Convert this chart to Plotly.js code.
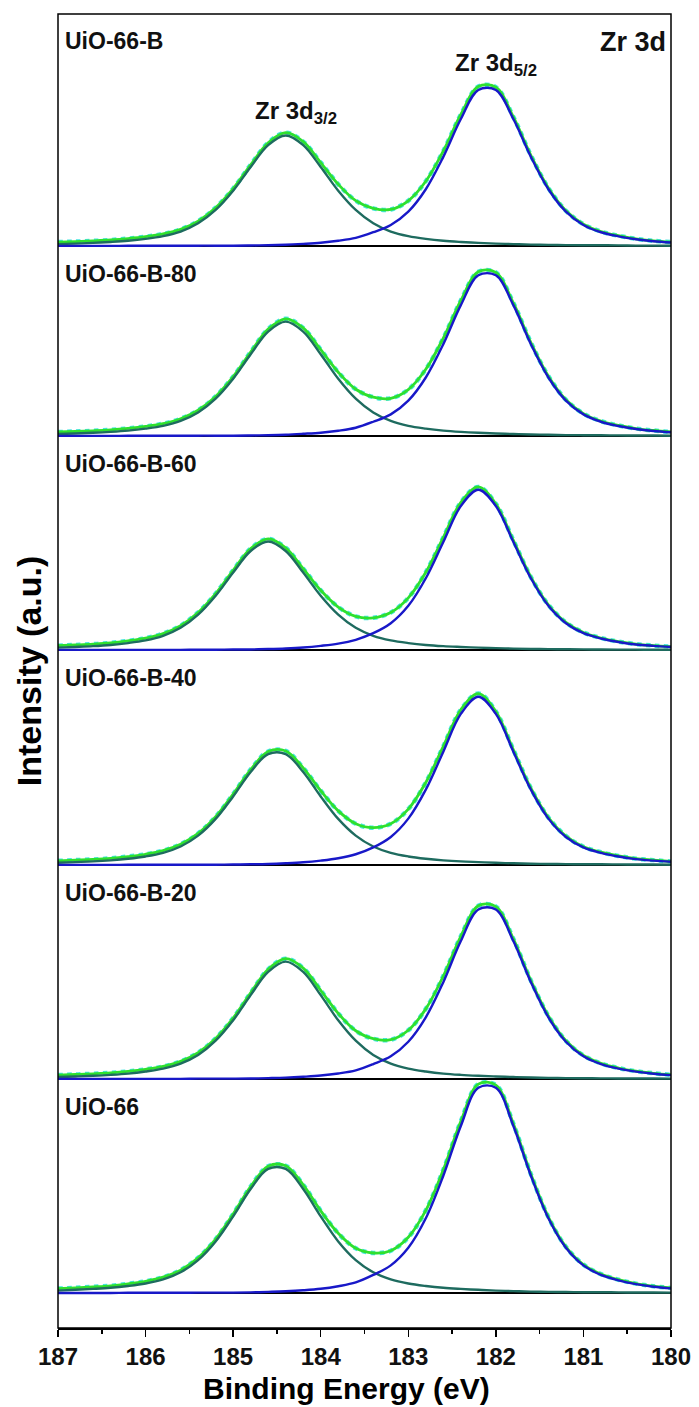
<!DOCTYPE html>
<html>
<head>
<meta charset="utf-8">
<script src="https://cdn.plot.ly/plotly-3.0.1.min.js"></script>
<style>html,body{margin:0;padding:0;background:#fff;}#chart{width:699px;height:1407px;}</style>
</head>
<body>
<div id="chart"></div>
<script>
// Binding energy grid (eV)
const energy = [187.0,186.8,186.6,186.4,186.2,186.0,185.8,185.6,185.4,185.2,185.0,184.8,184.6,184.4,184.2,184.0,183.8,183.6,183.4,183.2,183.0,182.8,182.6,182.4,182.2,182.0,181.8,181.6,181.4,181.2,181.0,180.8,180.6,180.4,180.2,180.0];
// Shirley-type background (a.u.)
const background = [2.0,2.0,2.0,2.0,2.0,2.0,2.0,2.0,1.9,1.9,1.8,1.7,1.6,1.5,1.4,1.3,1.3,1.2,1.2,1.1,1.0,0.9,0.7,0.6,0.4,0.3,0.2,0.1,0.1,0,0,0,0,0,0,0];

const samples = ['UiO-66-B','UiO-66-B-80','UiO-66-B-60','UiO-66-B-40','UiO-66-B-20','UiO-66'];

// Zr 3d5/2 and Zr 3d3/2 fitted components (a.u.)
const zr52_B   = [0,0,0,0,0.2,0.2,0.2,0.2,0.3,0.3,0.3,0.5,0.8,1.3,2.1,3.2,5.2,8.1,13.8,21.1,34.5,57.0,89.5,127.5,156.7,156.7,127.5,89.5,57.0,34.5,21.1,13.8,9.7,6.8,4.8,3.5];
const zr32_B   = [1.9,2.4,3.1,4.0,5.2,7.1,9.9,14.5,22.8,36.2,55.5,79.3,101.3,111.0,101.3,79.3,55.5,36.2,22.8,14.5,9.9,7.1,5.2,4.0,3.1,2.4,1.9,1.4,1.1,0.9,0.8,0.7,0.6,0.4,0.4,0.3];
const zr52_B80 = [0,0,0,0,0.2,0.2,0.2,0.2,0.3,0.3,0.3,0.5,0.8,1.3,2.2,3.3,5.3,8.3,14.3,21.7,35.5,58.8,92.3,131.5,161.5,161.5,131.5,92.3,58.8,35.5,21.7,14.3,10.0,7.0,5.0,3.7];
const zr32_B80 = [2.0,2.5,3.2,4.1,5.4,7.4,10.2,15.1,23.6,37.5,57.5,82.1,105.0,115.0,105.0,82.1,57.5,37.5,23.6,15.1,10.2,7.4,5.4,4.1,3.2,2.5,2.0,1.5,1.2,0.9,0.8,0.7,0.6,0.5,0.5,0.3];
const zr52_B60 = [0,0,0,0,0.2,0.2,0.2,0.2,0.3,0.3,0.5,0.6,1.0,1.6,2.6,4.2,6.4,10.3,16.9,26.9,44.4,72.1,108.5,144.6,161.0,144.6,108.5,72.1,44.4,26.9,16.9,11.6,8.1,5.6,4.2,3.1];
const zr32_B60 = [2.4,3.1,3.9,5.1,7.0,9.7,14.3,22.3,35.5,54.5,77.8,99.5,109.0,99.5,77.8,54.5,35.5,22.3,14.3,9.7,7.0,5.1,3.9,3.1,2.4,1.9,1.4,1.1,0.9,0.8,0.7,0.5,0.4,0.4,0.3,0.3];
const zr52_B40 = [0,0,0,0,0.2,0.2,0.2,0.2,0.3,0.3,0.5,0.7,1.0,1.7,2.7,4.4,6.8,10.8,17.7,28.2,46.6,75.7,113.9,151.8,169.0,151.8,113.9,75.7,46.6,28.2,17.7,12.2,8.5,5.9,4.4,3.2];
const zr32_B40 = [2.2,2.9,3.6,4.7,6.3,8.6,12.2,18.6,29.5,46.3,68.9,93.5,111.4,111.4,93.5,68.9,46.3,29.5,18.6,12.2,8.6,6.3,4.7,3.6,2.9,2.2,1.7,1.3,1.0,0.9,0.7,0.7,0.6,0.5,0.5,0.3];
const zr52_B20 = [0,0,0,0,0.2,0.2,0.2,0.2,0.4,0.4,0.4,0.5,0.9,1.4,2.3,3.5,5.6,8.8,15.1,22.9,37.5,62.0,97.3,138.6,170.3,170.3,138.6,97.3,62.0,37.5,22.9,15.1,10.5,7.4,5.3,3.9];
const zr32_B20 = [2.0,2.6,3.3,4.2,5.5,7.6,10.5,15.5,24.2,38.5,59.0,84.3,107.7,118.0,107.7,84.3,59.0,38.5,24.2,15.5,10.5,7.6,5.5,4.2,3.3,2.6,2.0,1.5,1.2,0.9,0.8,0.7,0.6,0.5,0.5,0.4];
const zr52_U   = [0,0,0,0,0.2,0.2,0.2,0.2,0.4,0.4,0.4,0.6,1.1,1.7,2.7,4.2,6.8,10.6,18.1,27.6,45.2,74.7,117.3,167.1,205.3,205.3,167.1,117.3,74.7,45.2,27.6,18.1,12.7,8.9,6.3,4.6];
const zr32_U   = [2.4,3.2,4.1,5.2,7.0,9.5,13.6,20.7,32.9,51.6,76.7,104.1,124.1,124.1,104.1,76.7,51.6,32.9,20.7,13.6,9.5,7.0,5.2,4.1,3.2,2.4,1.9,1.4,1.1,1.0,0.8,0.8,0.6,0.5,0.5,0.4];

const tickVals = [187,186,185,184,183,182,181,180];
const tickText = ['187','186','185','184','183','182','181','180'];

const comp52 = [zr52_B, zr52_B80, zr52_B60, zr52_B40, zr52_B20, zr52_U];
const comp32 = [zr32_B, zr32_B80, zr32_B60, zr32_B40, zr32_B20, zr32_U];

const FONT = 'Liberation Sans, Arial, Helvetica, sans-serif';
const C_DATA = '#45e6e0', C_ENV = '#2ee02e', C_32 = '#1e6b5f', C_52 = '#1818c8';

// panel layout (paper fractions) and y ranges
const domains = [[0.8227,1.0],[0.6781,0.8227],[0.5152,0.6781],[0.3516,0.5152],[0.1887,0.3516],[0,0.1887]];
const yRanges = [[-1,233],[-1,190],[-1,214],[-1,215],[-1,214],[-35,213]];

const traces = [];
const layout = {
  width: 699, height: 1407,
  margin: {l: 58, r: 28, t: 14, b: 79},
  paper_bgcolor: '#fff', plot_bgcolor: '#fff',
  showlegend: false,
  font: {family: FONT, color: '#000'},
  xaxis: {
    range: [187, 180], anchor: 'y6',
    tickmode: 'array', tickvals: tickVals, ticktext: tickText,
    ticks: 'outside', ticklen: 7, tickwidth: 1.5, tickcolor: '#000',
    minor: {ticks: 'outside', ticklen: 4, tickwidth: 1.5, tickcolor: '#000', dtick: 0.5, tick0: 180},
    showline: true, linecolor: '#000', linewidth: 1.5,
    showgrid: false, zeroline: false,
    tickfont: {family: FONT, size: 24, weight: 'bold', color: '#111'}
  },
  shapes: [{type: 'rect', xref: 'paper', yref: 'paper', x0: 0, x1: 1, y0: 0, y1: 1, line: {color: '#000', width: 1.5}}],
  annotations: []
};

for (let k = 0; k < 6; k++) {
  const yname = k === 0 ? 'y' : 'y' + (k + 1);
  const ykey = k === 0 ? 'yaxis' : 'yaxis' + (k + 1);
  layout[ykey] = {domain: domains[k], range: yRanges[k], visible: false, fixedrange: true};
  const c5 = comp52[k], c3 = comp32[k];
  const env = energy.map((_, i) => c5[i] + c3[i] + background[i]);
  traces.push({x: [energy[0], energy[energy.length - 1]], y: [0, 0], yaxis: yname, mode: 'lines', line: {color: '#000', width: 2}, hoverinfo: 'skip'});
  traces.push({x: energy, y: env, yaxis: yname, mode: 'lines', line: {color: C_DATA, width: 4.5, dash: 'dot', shape: 'spline'}, name: 'data'});
  traces.push({x: energy, y: env, yaxis: yname, mode: 'lines', line: {color: C_ENV, width: 2.8, shape: 'spline'}, name: 'envelope'});
  traces.push({x: energy, y: c3, yaxis: yname, mode: 'lines', line: {color: C_32, width: 2.4, shape: 'spline'}, name: 'Zr 3d3/2'});
  traces.push({x: energy, y: c5, yaxis: yname, mode: 'lines', line: {color: C_52, width: 2.4, shape: 'spline'}, name: 'Zr 3d5/2'});
  layout.annotations.push({
    xref: 'paper', x: 0.008, xanchor: 'left',
    yref: yname + ' domain', y: 1, yanchor: 'top', yshift: -12,
    text: samples[k], showarrow: false,
    font: {family: FONT, size: 23, weight: 'bold', color: '#111'}
  });
}

layout.annotations.push({xref: 'paper', x: 0.995, xanchor: 'right', yref: 'y domain', y: 1, yanchor: 'top', yshift: -11,
  text: 'Zr 3d', showarrow: false, font: {family: FONT, size: 27, weight: 'bold', color: '#111'}});
layout.annotations.push({xref: 'x', x: 182.0, yref: 'y', y: 182, yanchor: 'middle', xanchor: 'center',
  text: 'Zr 3d<sub>5/2</sub>', showarrow: false, font: {family: FONT, size: 24, weight: 'bold', color: '#111'}});
layout.annotations.push({xref: 'x', x: 184.28, yref: 'y', y: 134, yanchor: 'middle', xanchor: 'center',
  text: 'Zr 3d<sub>3/2</sub>', showarrow: false, font: {family: FONT, size: 24, weight: 'bold', color: '#111'}});
// axis titles
layout.annotations.push({xref: 'paper', x: 0.471, xanchor: 'center', yref: 'paper', y: -0.0457, yanchor: 'middle',
  text: 'Binding Energy (eV)', showarrow: false, font: {family: FONT, size: 30, weight: 'bold', color: '#000'}});
layout.annotations.push({xref: 'paper', x: -0.047, xanchor: 'center', yref: 'paper', y: 0.5, yanchor: 'middle',
  textangle: -90, text: 'Intensity (a.u.)', showarrow: false, font: {family: FONT, size: 34, weight: 'bold', color: '#000'}});

Plotly.newPlot('chart', traces, layout, {displayModeBar: false, staticPlot: true});
</script>
</body>
</html>
